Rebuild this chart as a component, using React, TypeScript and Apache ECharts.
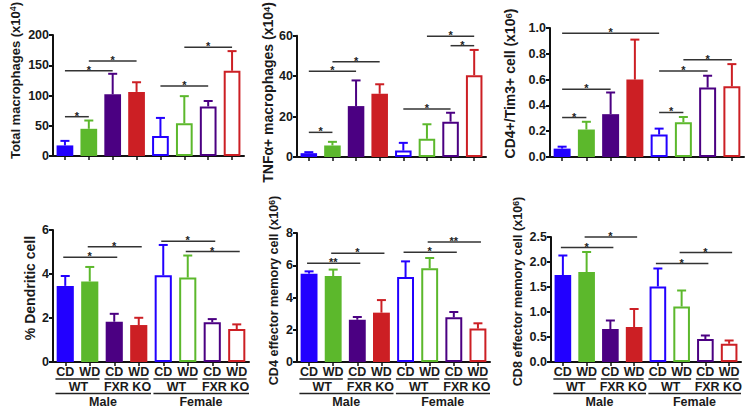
import React, { useEffect, useRef } from "react";
import * as echarts from "echarts";

// ---------- data ----------
const categories = ["CD", "WD", "CD", "WD", "CD", "WD", "CD", "WD"];
const groupColors = ["#2200ff", "#5cb82c", "#4b0082", "#cc1f24"];

// Total macrophages (x10^4)
const totalMacMean = [17.5, 45, 102, 106, 33, 54, 82, 141];
const totalMacSem = [7.5, 13.7, 34, 16, 30, 45, 9, 32.5];
const totalMacBrackets = [[0, 1, 65], [0, 2, 141], [1, 3, 157], [4, 6, 116], [5, 7, 180]];
const totalMacStars = ["*", "*", "*", "*", "*"];

// TNFa+ macrophages (x10^4)
const tnfMean = [1.9, 5.7, 25.2, 31.3, 3.2, 9, 17.5, 40.5];
const tnfSem = [0.5, 1.8, 12.7, 4.7, 3.8, 7.2, 4.4, 12.5];
const tnfBrackets = [[0, 1, 12.2], [0, 2, 42.5], [1, 3, 47.1], [4, 6, 23.8], [6, 7, 55.1], [5, 7, 59.8]];
const tnfStars = ["*", "*", "*", "*", "*", "*"];

// CD4+/Tim3+ cell (x10^6)
const tim3Mean = [0.065, 0.213, 0.332, 0.6, 0.174, 0.27, 0.538, 0.548];
const tim3Sem = [0.015, 0.06, 0.168, 0.31, 0.046, 0.04, 0.092, 0.172];
const tim3Brackets = [[0, 4, 0.96], [0, 2, 0.525], [0, 1, 0.306], [4, 6, 0.667], [5, 7, 0.753], [4, 5, 0.345]];
const tim3Stars = ["*", "*", "*", "*", "*", "*"];

// % Dendritic cell
const dcMean = [3.46, 3.66, 1.83, 1.68, 3.94, 3.84, 1.81, 1.5];
const dcSem = [0.45, 0.66, 0.36, 0.33, 1.38, 1.0, 0.14, 0.21];
const dcBrackets = [[0, 2, 4.76], [1, 3, 5.24], [4, 6, 5.49], [5, 7, 5.02]];
const dcStars = ["*", "*", "*", "*"];

// CD4 effector memory cell (x10^6)
const cd4Mean = [5.48, 5.33, 2.62, 3.06, 5.27, 5.81, 2.77, 2.07];
const cd4Sem = [0.14, 0.4, 0.17, 0.78, 0.97, 0.64, 0.33, 0.33];
const cd4Brackets = [[0, 2, 6.12], [1, 3, 6.74], [4, 6, 6.8], [5, 7, 7.44]];
const cd4Stars = ["**", "*", "*", "**"];

// CD8 effector memory cell (x10^6)
const cd8Mean = [1.74, 1.8, 0.66, 0.7, 1.51, 1.11, 0.46, 0.365];
const cd8Sem = [0.39, 0.4, 0.17, 0.36, 0.36, 0.32, 0.07, 0.065];
const cd8Brackets = [[0, 2, 2.29], [1, 3, 2.5], [4, 6, 1.97], [5, 7, 2.19]];
const cd8Stars = ["*", "*", "*", "*"];

// group labels (bottom row)
const genotypeSpans = [[0, 1], [2, 3], [4, 5], [6, 7]];
const genotypeLabels = ["WT", "FXR KO", "WT", "FXR KO"];
const sexSpans = [[0, 3], [4, 7]];
const sexLabels = ["Male", "Female"];

// y axis settings
const yMax = [200, 60, 1.0, 6, 8, 2.5];
const yInterval = [50, 20, 0.2, 2, 2, 0.5];
const yDecimals = [0, 0, 1, 0, 0, 1];

const FONT = "'Liberation Sans', Arial, sans-serif";
const INK = "#1a1a1a";
const FS = 12.5;

const panels = [
  { mean: totalMacMean, sem: totalMacSem, br: totalMacBrackets, st: totalMacStars, name: "{a|Total macrophages (x10}{s|4}{a|)}", bottom: false },
  { mean: tnfMean, sem: tnfSem, br: tnfBrackets, st: tnfStars, name: "{a|TNFα+ macrophages (x10}{s|4}{a|)}", bottom: false },
  { mean: tim3Mean, sem: tim3Sem, br: tim3Brackets, st: tim3Stars, name: "{a|CD4+/Tim3+ cell (x10}{s|6}{a|)}", bottom: false },
  { mean: dcMean, sem: dcSem, br: dcBrackets, st: dcStars, name: "{a|% Dendritic cell}", bottom: true },
  { mean: cd4Mean, sem: cd4Sem, br: cd4Brackets, st: cd4Stars, name: "{a|CD4 effector memory cell (x10}{s|6}{a|)}", bottom: true },
  { mean: cd8Mean, sem: cd8Sem, br: cd8Brackets, st: cd8Stars, name: "{a|CD8 effector memory cell (x10}{s|6}{a|)}", bottom: true },
];

// layout
const grids = [
  { left: 53, top: 30, width: 191, height: 126 },
  { left: 297, top: 31, width: 189, height: 126 },
  { left: 550, top: 28, width: 194, height: 129 },
  { left: 53, top: 230, width: 196, height: 132 },
  { left: 297, top: 233, width: 193, height: 129 },
  { left: 551, top: 237, width: 190, height: 125 },
];
const titleSize = [13, 14, 14, 14, 12.6, 12.6];
const nameGaps = [31, 21, 33, 16, 16, 26];
const nameShift = [15, 4, 9, 8, 7, 8];

function buildOption() {
  const grid: any[] = [];
  const xAxis: any[] = [];
  const yAxis: any[] = [];
  const series: any[] = [];
  panels.forEach((p, k) => {
    grid.push({ ...grids[k], containLabel: false });
    xAxis.push({
      type: "category",
      gridIndex: k,
      data: categories,
      axisLine: { lineStyle: { color: "#111", width: 2 } },
      axisTick: { show: true, alignWithLabel: true, length: 4, lineStyle: { color: "#111", width: 1.5 } },
      axisLabel: {
        show: p.bottom,
        interval: 0,
        margin: 3,
        fontFamily: FONT,
        fontWeight: "bold",
        fontSize: FS,
        color: INK,
      },
    });
    const ts = titleSize[k];
    yAxis.push({
      type: "value",
      gridIndex: k,
      min: 0,
      max: yMax[k],
      interval: yInterval[k],
      splitLine: { show: false },
      axisLine: { show: true, lineStyle: { color: "#111", width: 2 } },
      axisTick: { show: true, length: 4, lineStyle: { color: "#111", width: 2 } },
      axisLabel: {
        margin: 4,
        fontFamily: FONT,
        fontWeight: "bold",
        fontSize: FS,
        color: INK,
        formatter: (v: number) => v.toFixed(yDecimals[k]),
      },
      name: p.name,
      nameLocation: "middle",
      nameGap: nameGaps[k],
      nameTextStyle: {
        padding: [0, 0, 0, nameShift[k] * 2],
        rich: {
          a: { fontFamily: FONT, fontWeight: "bold", fontSize: ts, color: INK, lineHeight: 14 },
          s: { fontFamily: FONT, fontWeight: "bold", fontSize: ts * 0.68, color: INK, lineHeight: 8, verticalAlign: "top" },
        },
      },
    });
    series.push({
      type: "bar",
      xAxisIndex: k,
      yAxisIndex: k,
      barWidth: "70%",
      data: p.mean.map((v, i) => {
        const c = groupColors[i % 4];
        return {
          value: v,
          itemStyle: i < 4 ? { color: c, borderColor: c, borderWidth: 0 } : { color: "#ffffff", borderColor: c, borderWidth: 2 },
        };
      }),
      z: 2,
    });
    series.push({
      type: "custom",
      xAxisIndex: k,
      yAxisIndex: k,
      z: 3,
      data: p.mean.map((v, i) => [i, v, p.sem[i]]),
      encode: { x: 0, y: 1 },
      renderItem: (params: any, api: any) => {
        const x = api.value(0);
        const m = api.value(1);
        const e = api.value(2);
        const p0 = api.coord([x, m]);
        const p1 = api.coord([x, m + e]);
        const c = groupColors[params.dataIndex % 4];
        const style = { stroke: c, lineWidth: 2 };
        return {
          type: "group",
          children: [
            { type: "line", shape: { x1: p0[0], y1: p0[1], x2: p1[0], y2: p1[1] }, style },
            { type: "line", shape: { x1: p1[0] - 4.5, y1: p1[1], x2: p1[0] + 4.5, y2: p1[1] }, style },
          ],
        };
      },
    });
    const stars = p.st;
    series.push({
      type: "custom",
      xAxisIndex: k,
      yAxisIndex: k,
      z: 4,
      clip: false,
      data: p.br,
      encode: { x: [0, 1], y: 2 },
      renderItem: (params: any, api: any) => {
        const a = api.coord([api.value(0), api.value(2)]);
        const b = api.coord([api.value(1), api.value(2)]);
        const ext = p.bottom ? [-2, 3] : [0, 0];
        return {
          type: "group",
          children: [
            { type: "line", shape: { x1: a[0] + ext[0], y1: a[1], x2: b[0] + ext[1], y2: a[1] }, style: { stroke: "#333", lineWidth: 1.5 } },
            {
              type: "text",
              x: (a[0] + b[0]) / 2,
              y: a[1] - 1,
              style: {
                text: stars[params.dataIndex],
                fontFamily: FONT,
                fontWeight: "bold",
                fontSize: 11,
                fill: "#222",
                align: "center",
                verticalAlign: "middle",
              },
            },
          ],
        };
      },
    });
    if (p.bottom) {
      const mk = (spans: number[][], labels: string[], lineOff: number, textOff: number, ext: number[]) => ({
        type: "custom",
        xAxisIndex: k,
        yAxisIndex: k,
        z: 4,
        clip: false,
        silent: true,
        data: spans,
        encode: { x: [0, 1] },
        renderItem: (params: any, api: any) => {
          const a = api.coord([api.value(0), 0]);
          const b = api.coord([api.value(1), 0]);
          const step = api.size([1, 0])[0];
          return {
            type: "group",
            children: [
              {
                type: "line",
                shape: { x1: a[0] - ext[0] * step, y1: a[1] + lineOff, x2: b[0] + ext[1] * step, y2: a[1] + lineOff },
                style: { stroke: "#222", lineWidth: 1.5 },
              },
              {
                type: "text",
                x: (a[0] + b[0]) / 2 + 1,
                y: a[1] + textOff,
                style: {
                  text: labels[params.dataIndex],
                  fontFamily: FONT,
                  fontWeight: "bold",
                  fontSize: FS,
                  fill: INK,
                  align: "center",
                  verticalAlign: "middle",
                },
              },
            ],
          };
        },
      });
      series.push(mk(genotypeSpans, genotypeLabels, 17, 25, [0.4, 0.4]));
      series.push(mk(sexSpans, sexLabels, 31.5, 39.5, [0.4, 0.5]));
    }
  });
  return {
    animation: false,
    backgroundColor: "#ffffff",
    grid,
    xAxis,
    yAxis,
    series,
  };
}

export default function App() {
  const ref = useRef<HTMLDivElement>(null);
  useEffect(() => {
    if (!ref.current) return;
    const chart = echarts.init(ref.current, undefined, { renderer: "svg" });
    chart.setOption(buildOption() as any);
    return () => chart.dispose();
  }, []);
  return <div ref={ref} style={{ position: "absolute", left: 0, top: 0, width: 747, height: 409 }} />;
}
